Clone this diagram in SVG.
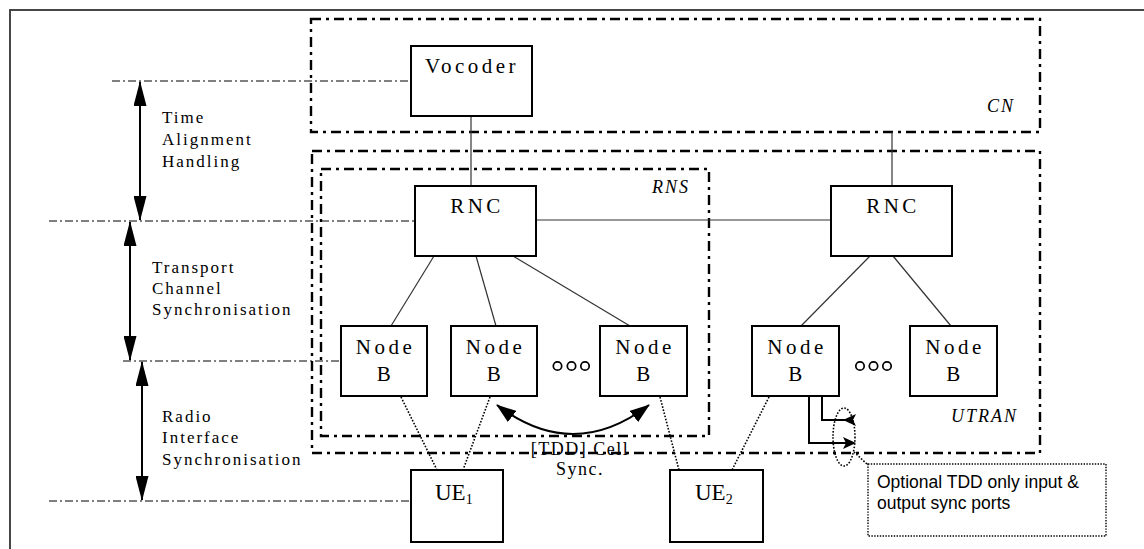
<svg xmlns="http://www.w3.org/2000/svg" width="1144" height="549" viewBox="0 0 1144 549">
<style>
  .frame{fill:none;stroke:#333;stroke-width:1.8}
  .area{fill:none;stroke:#000;stroke-width:2.4;stroke-dasharray:10 5 3 5}
  .guide{fill:none;stroke:#000;stroke-width:1;stroke-dasharray:8 3 2 3}
  .box{fill:#fff;stroke:#000;stroke-width:2}
  .link{fill:none;stroke:#333;stroke-width:1.2}
  .dot{fill:none;stroke:#000;stroke-width:1.6;stroke-dasharray:1.6 1.6}
  .thick{fill:none;stroke:#000;stroke-width:2}
  .lbl{font-family:"Liberation Serif","Times New Roman",serif;font-size:21px;letter-spacing:3.5px;fill:#000}
  .side{font-family:"Liberation Serif","Times New Roman",serif;font-size:17px;letter-spacing:2px;fill:#000}
  .ital{font-family:"Liberation Serif","Times New Roman",serif;font-size:18px;font-style:italic;letter-spacing:2px;fill:#000}
  .ue{font-family:"Liberation Serif","Times New Roman",serif;font-size:23px;fill:#000}
  .sub{font-size:14px}
  .note{font-family:"Liberation Sans",Arial,sans-serif;font-size:17.5px;fill:#000}
  .ring{fill:none;stroke:#000;stroke-width:1.7}
</style>
<defs>
  <marker id="big" viewBox="0 0 25 13" markerWidth="25" markerHeight="13" refX="24" refY="6.5" orient="auto-start-reverse" markerUnits="userSpaceOnUse">
    <path d="M0,0 L25,6.5 L0,13 z" fill="#000"/>
  </marker>
  <marker id="mid" viewBox="0 0 20 14" markerWidth="20" markerHeight="14" refX="19" refY="7" orient="auto-start-reverse" markerUnits="userSpaceOnUse">
    <path d="M0,0 L20,7 L0,14 z" fill="#000"/>
  </marker>
</defs>
<rect width="1144" height="549" fill="#fff"/>
<rect class="frame" x="10" y="10" width="1145" height="550"/>

<g id="cn">
  <rect class="area" x="311" y="19" width="729" height="113"/>
  <text class="ital" x="987" y="112">CN</text>
</g>
<g id="utran">
  <rect class="area" x="312" y="151" width="728" height="302"/>
  <text class="ital" x="951" y="422">UTRAN</text>
</g>
<g id="rns">
  <rect class="area" x="321" y="169" width="388" height="267"/>
  <text class="ital" x="652" y="193">RNS</text>
</g>

<g id="guides">
  <line class="guide" x1="112" y1="81" x2="411" y2="81"/>
  <line class="guide" x1="49" y1="221" x2="415" y2="221"/>
  <line class="guide" x1="123" y1="361" x2="341" y2="361"/>
  <line class="guide" x1="49" y1="501" x2="411" y2="501"/>
  <line class="thick" x1="140" y1="82" x2="140" y2="220" marker-start="url(#big)" marker-end="url(#big)"/>
  <line class="thick" x1="130" y1="222" x2="130" y2="360" marker-start="url(#big)" marker-end="url(#big)"/>
  <line class="thick" x1="142" y1="362" x2="142" y2="500" marker-start="url(#big)" marker-end="url(#big)"/>
  <text class="side" x="162" y="123">Time</text>
  <text class="side" x="162" y="145">Alignment</text>
  <text class="side" x="162" y="167">Handling</text>
  <text class="side" x="152" y="273">Transport</text>
  <text class="side" x="152" y="294">Channel</text>
  <text class="side" x="152" y="315">Synchronisation</text>
  <text class="side" x="162" y="422">Radio</text>
  <text class="side" x="162" y="443">Interface</text>
  <text class="side" x="162" y="465">Synchronisation</text>
</g>

<g id="connectors">
  <line class="link" x1="471" y1="116" x2="471" y2="186"/>
  <line class="link" x1="892" y1="132" x2="892" y2="186"/>
  <line class="link" x1="536" y1="220" x2="831" y2="220"/>
  <line class="link" x1="434" y1="256" x2="391" y2="326"/>
  <line class="link" x1="476" y1="256" x2="496" y2="326"/>
  <line class="link" x1="513" y1="256" x2="630" y2="326"/>
  <line class="link" x1="870" y1="256" x2="801" y2="326"/>
  <line class="link" x1="893" y1="256" x2="951" y2="326"/>
  <line class="dot" x1="401" y1="397" x2="437" y2="470"/>
  <line class="dot" x1="490" y1="397" x2="463" y2="470"/>
  <line class="dot" x1="660" y1="397" x2="679" y2="470"/>
  <line class="dot" x1="769" y1="397" x2="732" y2="470"/>
  <path class="thick" d="M497,405 Q573,463 649,405" marker-start="url(#mid)" marker-end="url(#mid)"/>
  <path class="thick" d="M822,397 V420 H852"/>
  <polygon points="843,420 856,414 853,420 856,426" fill="#000"/>
  <path class="thick" d="M809,397 V443 H846"/>
  <polygon points="856,443 843,437 846,443 843,449" fill="#000"/>
  <ellipse class="dot" cx="844" cy="437" rx="11" ry="29"/>
  <line class="dot" x1="854" y1="452" x2="868" y2="465"/>
</g>

<g id="vocoder">
  <rect class="box" x="411" y="46" width="121" height="70"/>
  <text class="lbl" x="472" y="73" text-anchor="middle">Vocoder</text>
</g>
<g id="rnc1">
  <rect class="box" x="415" y="186" width="121" height="70"/>
  <text class="lbl" x="477" y="213" text-anchor="middle">RNC</text>
</g>
<g id="rnc2">
  <rect class="box" x="831" y="186" width="121" height="70"/>
  <text class="lbl" x="893" y="213" text-anchor="middle">RNC</text>
</g>
<g id="nodeb1">
  <rect class="box" x="341" y="326" width="86" height="70"/>
  <text class="lbl" x="385.5" y="354" text-anchor="middle">Node</text>
  <text class="lbl" x="385.5" y="381" text-anchor="middle">B</text>
</g>
<g id="nodeb2">
  <rect class="box" x="451" y="326" width="86" height="70"/>
  <text class="lbl" x="495.5" y="354" text-anchor="middle">Node</text>
  <text class="lbl" x="495.5" y="381" text-anchor="middle">B</text>
</g>
<g id="nodeb3">
  <rect class="box" x="600" y="326" width="87" height="70"/>
  <text class="lbl" x="645" y="354" text-anchor="middle">Node</text>
  <text class="lbl" x="645" y="381" text-anchor="middle">B</text>
</g>
<g id="nodeb4">
  <rect class="box" x="752" y="326" width="87" height="70"/>
  <text class="lbl" x="797" y="354" text-anchor="middle">Node</text>
  <text class="lbl" x="797" y="381" text-anchor="middle">B</text>
</g>
<g id="nodeb5">
  <rect class="box" x="910" y="326" width="87" height="70"/>
  <text class="lbl" x="955" y="354" text-anchor="middle">Node</text>
  <text class="lbl" x="955" y="381" text-anchor="middle">B</text>
</g>
<g id="ellipsis1">
  <circle class="ring" cx="557.5" cy="366" r="4.2"/>
  <circle class="ring" cx="571.5" cy="366" r="4.2"/>
  <circle class="ring" cx="585" cy="366" r="4.2"/>
</g>
<g id="ellipsis2">
  <circle class="ring" cx="860" cy="366" r="4.2"/>
  <circle class="ring" cx="873.5" cy="366" r="4.2"/>
  <circle class="ring" cx="887" cy="366" r="4.2"/>
</g>
<g id="ue1">
  <rect class="box" x="411" y="470" width="92" height="72"/>
  <text class="ue" x="435" y="500">UE<tspan class="sub" dy="4">1</tspan></text>
</g>
<g id="ue2">
  <rect class="box" x="670" y="470" width="93" height="72"/>
  <text class="ue" x="695" y="500">UE<tspan class="sub" dy="4">2</tspan></text>
</g>
<g id="cellsync">
  <text class="side" x="580" y="455" text-anchor="middle" style="font-size:18px;letter-spacing:1.5px">[TDD] Cell</text>
  <text class="side" x="580" y="475" text-anchor="middle" style="font-size:18px;letter-spacing:1.5px">Sync.</text>
</g>
<g id="callout">
  <rect class="dot" x="868" y="464" width="238" height="72" style="stroke-width:1.4;stroke-dasharray:1.4 1.4"/>
  <text class="note" x="877" y="488">Optional TDD only input &amp;</text>
  <text class="note" x="877" y="509">output sync ports</text>
</g>
</svg>
